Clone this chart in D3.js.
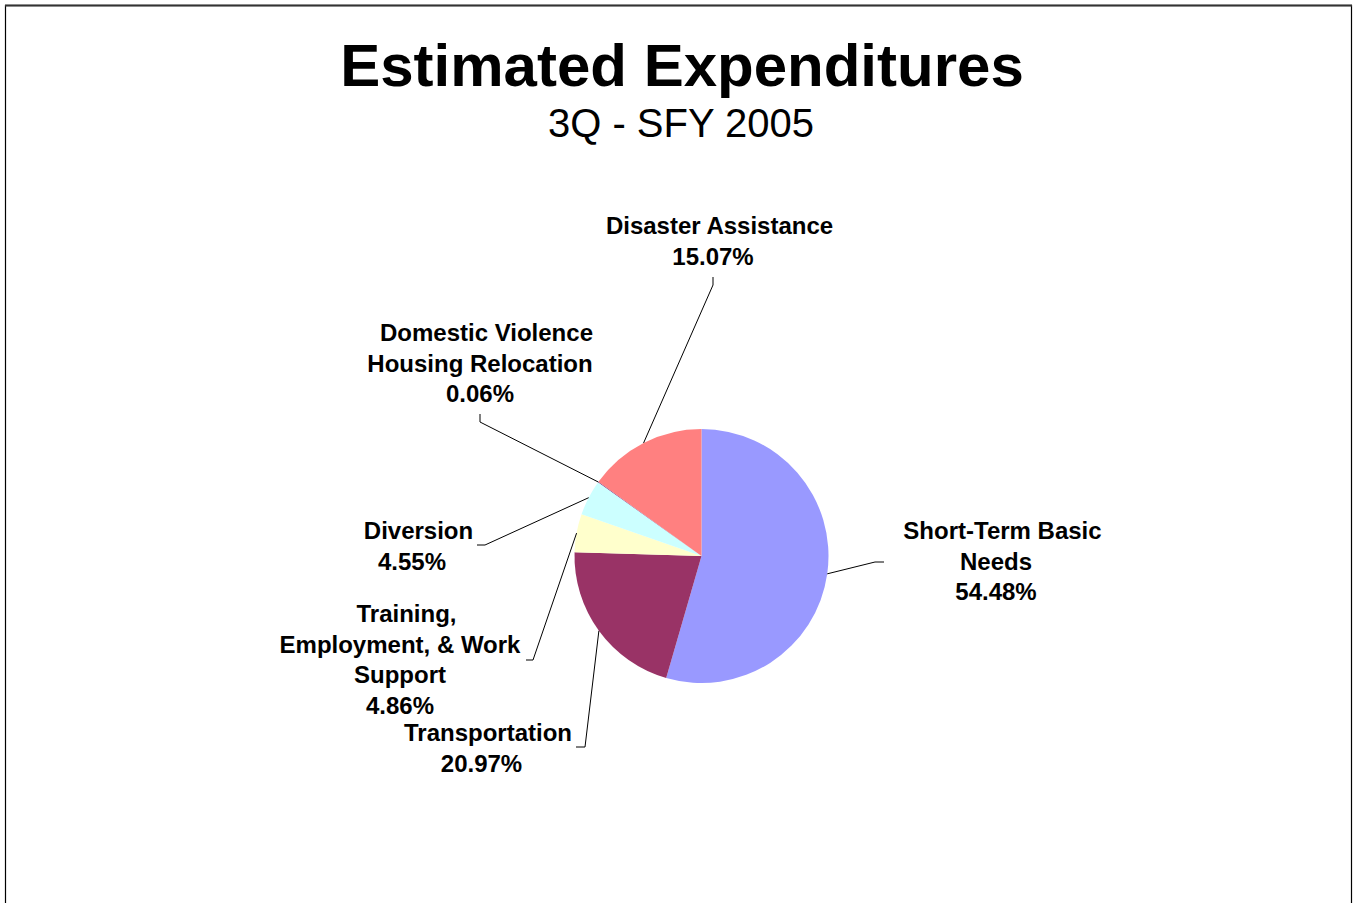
<!DOCTYPE html>
<html>
<head>
<meta charset="utf-8">
<script src="https://cdn.jsdelivr.net/npm/d3@7/dist/d3.min.js"></script>
<style>
  html, body { margin: 0; padding: 0; background: #fff; }
  svg { display: block; font-family: Arial, "Liberation Sans", sans-serif; }
</style>
</head>
<body>
<svg id="chart" width="1355" height="903"></svg>
<script>
// ---- data ----
const categories = [
  "Short-Term Basic Needs",
  "Transportation",
  "Training, Employment, & Work Support",
  "Diversion",
  "Domestic Violence Housing Relocation",
  "Disaster Assistance"
];
const values = [54.48, 20.97, 4.86, 4.55, 0.06, 15.07];
const labelLines = [
  ["Short-Term Basic", "Needs"],
  ["Transportation"],
  ["Training,", "Employment, & Work", "Support"],
  ["Diversion"],
  ["Domestic Violence", "Housing Relocation"],
  ["Disaster Assistance"]
];
const colors = ["#9999FF", "#993366", "#FFFFCC", "#CCFFFF", "#660066", "#FF8080"];
const titleText = "Estimated Expenditures";
const subtitleText = "3Q - SFY 2005";

// ---- layout ----
const svg = d3.select("#chart");
const cx = 701.5, cy = 556, r = 127;

svg.append("rect")
  .attr("x", 5.5).attr("y", 5.5).attr("width", 1346).attr("height", 920)
  .attr("fill", "none").attr("stroke", "#000").attr("stroke-width", 1.2);
svg.append("line").attr("x1", 5).attr("x2", 1352).attr("y1", 5.5).attr("y2", 5.5)
  .attr("stroke", "#333").attr("stroke-width", 2);

svg.append("text").attr("x", 682).attr("y", 86).attr("text-anchor", "middle")
  .attr("font-size", 60).attr("font-weight", "bold").text(titleText);
svg.append("text").attr("x", 681).attr("y", 137).attr("text-anchor", "middle")
  .attr("font-size", 40).text(subtitleText);

const pie = d3.pie().sort(null).value(d => d)(values);
const arc = d3.arc().innerRadius(0).outerRadius(r);
const g = svg.append("g").attr("transform", `translate(${cx},${cy})`);
g.selectAll("path").data(pie).join("path")
  .attr("d", arc).attr("fill", (d, i) => colors[i]);

// label placement (per slice): text block centre x, first baseline, elbow & end of leader
const labelPos = [
  { x: 996, y: 539, elbow: [875, 562], end: [884, 562] },
  { x: 481.5, y: 741, elbow: [585, 747], end: [576, 747] },
  { x: 400, y: 622, elbow: [533, 660], end: [526, 660] },
  { x: 412, y: 539, elbow: [485, 545], end: [477, 545] },
  { x: 480, y: 341, elbow: [480, 422], end: [480, 414] },
  { x: 713, y: 234, elbow: [713, 285], end: [713, 277] }
];

pie.forEach((d, i) => {
  const mid = (d.startAngle + d.endAngle) / 2;
  const sx = cx + r * Math.sin(mid), sy = cy - r * Math.cos(mid);
  const p = labelPos[i];
  svg.append("polyline")
    .attr("points", [[sx, sy], p.elbow, p.end].map(q => q.join(",")).join(" "))
    .attr("fill", "none").attr("stroke", "#000").attr("stroke-width", 1);

  const lines = labelLines[i].concat([values[i].toFixed(2) + "%"]);
  const t = svg.append("text").attr("text-anchor", "middle")
    .attr("font-size", 24).attr("font-weight", "bold");
  lines.forEach((ln, k) => {
    t.append("tspan").attr("x", p.x + (k === 0 ? 6.5 : 0))
      .attr("y", p.y + k * 30.5).text(ln);
  });
});
</script>
</body>
</html>
